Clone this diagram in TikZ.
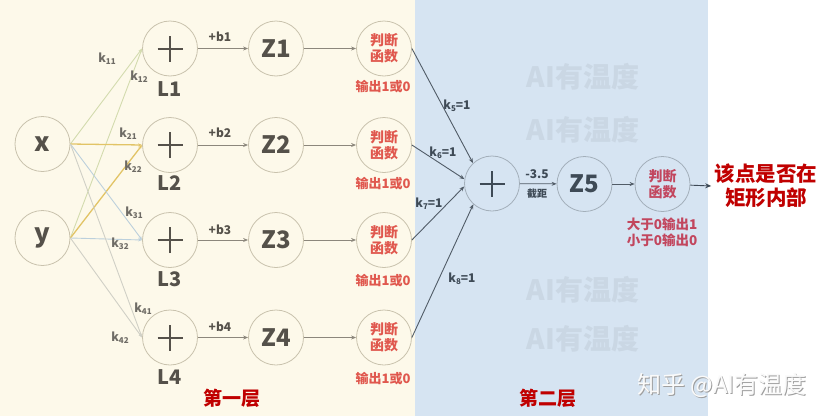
\documentclass[tikz,border=0pt]{standalone}
\usepackage{fontspec}
\setmainfont{Noto Sans CJK SC}
\usetikzlibrary{arrows.meta}
\definecolor{creambg}{HTML}{FDF9EA}
\definecolor{bluebg}{HTML}{D6E4F2}
\definecolor{cborder}{HTML}{C9C2AD}
\definecolor{bborder}{HTML}{A3AFBA}
\definecolor{darktxt}{HTML}{55514A}
\definecolor{slatetxt}{HTML}{3E4A56}
\definecolor{judgered}{HTML}{E0584E}
\definecolor{judgepink}{HTML}{C2465E}
\definecolor{titlered}{HTML}{C00000}
\definecolor{arrowgray}{HTML}{8C877C}
\definecolor{eg}{HTML}{D3DBAE}
\definecolor{eo}{HTML}{E2C466}
\definecolor{eb}{HTML}{BCD0DC}
\definecolor{ey}{HTML}{D0D0C6}
\definecolor{wmark}{HTML}{CAD7E4}
\newcommand\fs[2]{\fontsize{#1}{#2}\selectfont}
\newcommand\ksub[2]{k\raisebox{-0.25ex}{\fs{8}{8}#1}#2}
\tikzset{
  cone/.style={circle, draw=cborder, fill=creambg, line width=0.8pt, minimum size=55pt, inner sep=0pt},
  ctwo/.style={circle, draw=bborder, fill=bluebg, line width=0.8pt, minimum size=55pt, inner sep=0pt},
  ztxt/.style={font=\bfseries\fs{24}{24}, text=darktxt},
  jtxt/.style={font=\bfseries\fs{14}{16}, text=judgered, align=center},
  otxt/.style={font=\bfseries\fs{13}{13}, text=judgered},
  ltxt/.style={font=\bfseries\fs{20}{20}, text=darktxt},
  btxt/.style={font=\bfseries\fs{12}{12}, text=darktxt},
  ktxt/.style={font=\bfseries\fs{12}{12}, text=darktxt!85},
  k2txt/.style={font=\bfseries\fs{12}{12}, text=slatetxt},
  arr/.style={-{Stealth[length=5pt,width=4pt]}, draw=arrowgray, line width=0.8pt},
  arr2/.style={-{Stealth[length=5pt,width=4pt]}, draw=slatetxt!90, line width=0.9pt},
  edge/.style={-{Stealth[length=4pt,width=3pt]}, line width=0.9pt},
  wm/.style={font=\bfseries\fs{28}{28}, text=wmark},
}
\newcommand\plussign[2]{\draw[line width=2pt, #2] ([xshift=-12.5pt]#1.center) -- ([xshift=12.5pt]#1.center) ([yshift=-13pt]#1.center) -- ([yshift=13pt]#1.center);}
\begin{document}
\begin{tikzpicture}[x=1pt,y=-1pt]
\useasboundingbox (0,0) rectangle (831,418);
\fill[white] (0,0) rectangle (831,418);
\fill[creambg] (0,0) rectangle (415,416);
\fill[bluebg] (415,0) rectangle (708,416);
% watermarks
\node[wm] (w1) at (583,77) {AI有温度};
\node[wm] (w2) at (583,130) {AI有温度};
\node[wm] (w3) at (583,290) {AI有温度};
\node[wm] (w4) at (583,339) {AI有温度};
% inputs
\node[cone, font=\bfseries\fs{26}{26}, text=darktxt] (x) at (42.5,144) {x};
\node[cone, font=\bfseries\fs{26}{26}, text=darktxt] (y) at (42.5,238) {y};
% sum nodes
\node[cone] (l1) at (170,48.5) {};
\node[cone] (l2) at (170,145) {};
\node[cone] (l3) at (170,240) {};
\node[cone] (l4) at (170,337.5) {};
\foreach \n in {l1,l2,l3,l4}{\plussign{\n}{darktxt}}
\node[ltxt] (t1) at (170,89) {L1};
\node[ltxt] (t2) at (170,183) {L2};
\node[ltxt] (t3) at (170,279) {L3};
\node[ltxt] (t4) at (170,377) {L4};
% Z nodes
\node[cone, ztxt] (z1) at (276,48.5) {Z1};
\node[cone, ztxt] (z2) at (276,145) {Z2};
\node[cone, ztxt] (z3) at (276,240) {Z3};
\node[cone, ztxt] (z4) at (276,337.5) {Z4};
% judge nodes
\node[cone, jtxt] (j1) at (384,48.5) {判断\\函数};
\node[cone, jtxt] (j2) at (384,145) {判断\\函数};
\node[cone, jtxt] (j3) at (384,240) {判断\\函数};
\node[cone, jtxt] (j4) at (384,337.5) {判断\\函数};
\node[otxt] (o1) at (383,87) {输出1或0};
\node[otxt] (o2) at (383,184) {输出1或0};
\node[otxt] (o3) at (383,281) {输出1或0};
\node[otxt] (o4) at (383,379) {输出1或0};
% input edges
\draw[edge, draw=eg] (x.east) -- (l1.west);
\draw[edge, draw=eg] (y.east) -- (l1.west);
\draw[edge, draw=eo, line width=1.3pt] (x.east) -- (l2.west);
\draw[edge, draw=eo, line width=1.3pt] (y.east) -- (l2.west);
\draw[edge, draw=eb] (x.east) -- (l3.west);
\draw[edge, draw=eb] (y.east) -- (l3.west);
\draw[edge, draw=ey] (x.east) -- (l4.west);
\draw[edge, draw=ey] (y.east) -- (l4.west);
\node[ktxt] (k11) at (107,59) {\ksub{11}{}};
\node[ktxt] (k12) at (139,77) {\ksub{12}{}};
\node[ktxt] (k21) at (128,134) {\ksub{21}{}};
\node[ktxt] (k22) at (133,167) {\ksub{22}{}};
\node[ktxt] (k31) at (134,213) {\ksub{31}{}};
\node[ktxt] (k32) at (120,244) {\ksub{32}{}};
\node[ktxt] (k41) at (143,309) {\ksub{41}{}};
\node[ktxt] (k42) at (120,338) {\ksub{42}{}};
% L -> Z -> J
\foreach \i in {1,2,3,4}{
  \draw[arr] (l\i) -- (z\i);
  \draw[arr] (z\i) -- (j\i);
}
\node[btxt] (b1) at (220,37) {+b1};
\node[btxt] (b2) at (220,133) {+b2};
\node[btxt] (b3) at (220,230) {+b3};
\node[btxt] (b4) at (220,327) {+b4};
% second layer
\node[ctwo] (s2) at (492,183.5) {};
\plussign{s2}{slatetxt}
\node[ctwo, font=\bfseries\fs{24}{24}, text=slatetxt] (z5) at (584.5,184) {Z5};
\node[ctwo, font=\bfseries\fs{14}{16}, text=judgepink, align=center] (j5) at (662.5,184) {判断\\函数};
\draw[arr2] (j1.east) -- (s2.133);
\draw[arr2] (j2.east) -- (s2.171);
\draw[arr2] (j3.east) -- (s2.186);
\draw[arr2] (j4.east) -- (s2.228);
\node[k2txt] (k5) at (457,106) {\ksub{5}{=1}};
\node[k2txt] (k6) at (443,153) {\ksub{6}{=1}};
\node[k2txt] (k7) at (429,204) {\ksub{7}{=1}};
\node[k2txt] (k8) at (462,279) {\ksub{8}{=1}};
\draw[arr2, line width=0.8pt] (s2) -- (z5);
\draw[arr2, line width=0.8pt] (z5) -- (j5);
\node[font=\bfseries\fs{12}{12}, text=slatetxt] (m35) at (537,174) {-3.5};
\node[font=\bfseries\fs{10}{10}, text=slatetxt] (jj) at (537,194) {截距};
\node[font=\bfseries\fs{13.5}{16}, text=judgepink, align=center] (gt) at (662,232) {大于0输出1\\小于0输出0};
\node[font=\bfseries\fs{20.5}{24}, text=titlered, align=center] (res) at (766,186) {该点是否在\\矩形内部};
\draw[-{Stealth[length=6pt,width=5pt]}, draw=slatetxt, line width=0.9pt] (j5) -- (res.west);
% layer titles
\node[font=\bfseries\fs{19}{19}, text=titlered] (L1t) at (232,398) {第一层};
\node[font=\bfseries\fs{19}{19}, text=titlered] (L2t) at (548,398) {第二层};
% site mark
\node[font=\fs{24}{24}, text=gray!75] (zh0) at (723,386) {知乎 @AI有温度};
\node[font=\fs{24}{24}, text=white!96!gray] (zh) at (722,385) {知乎 @AI有温度};
\end{tikzpicture}
\end{document}
